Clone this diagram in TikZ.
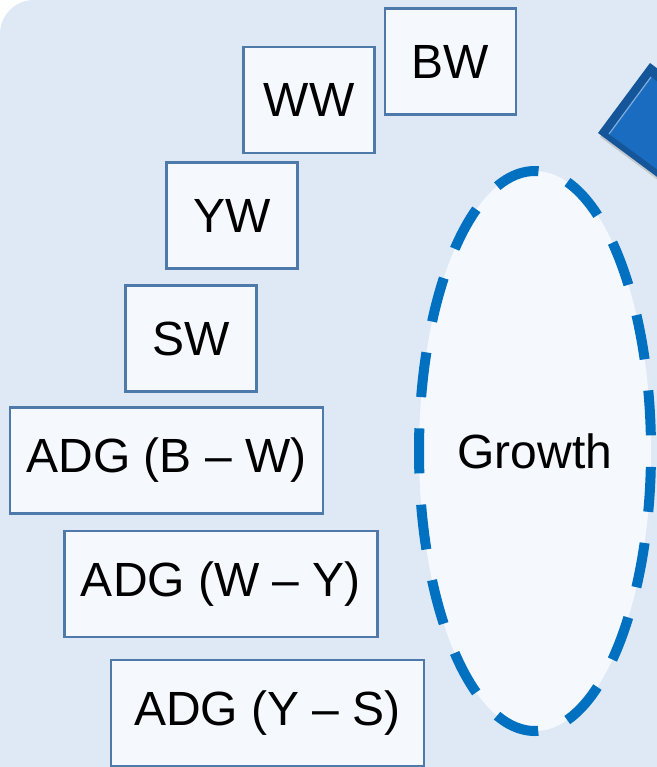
\documentclass[tikz,border=0pt]{standalone}
\usepackage{fontspec}
\setmainfont{Liberation Sans}
\usetikzlibrary{shapes.geometric, calc}
\definecolor{panelblue}{HTML}{DEE9F5}
\definecolor{boxline}{HTML}{4E7AAB}
\definecolor{boxfill}{HTML}{F5F8FD}
\definecolor{dashblue}{HTML}{0070C0}
\definecolor{tipblue}{HTML}{1A6CC0}
\tikzset{
    box/.style={draw=boxline, line width=2.4pt, fill=boxfill, minimum height=106pt, inner sep=0pt},
    smallbox/.style={box, minimum width=131pt},
    widebox/.style={box, minimum width=313pt},
    group/.style={ellipse, draw=dashblue, line width=10pt, fill=boxfill, dash pattern=on 45pt off 31.35pt, dash phase=60.7pt, minimum width=232pt, minimum height=560pt, inner sep=0pt}
}

\begin{document}
\begin{tikzpicture}[x=1pt, y=-1pt, font=\fontsize{48}{56}\selectfont]
        \useasboundingbox (0,0) rectangle (656,767);
        % panel behind everything
        \fill[white] (0,0) rectangle (656,767);
        \fill[panelblue, rounded corners=34pt] (0,0) rectangle (700,900);

        % blue tip coming in from the right
        \fill[black!35, opacity=0.5] (600,137) -- (652,67) -- (757,145) -- (705,215) -- cycle;
        \fill[tipblue!80!black] (598,133) -- (650,63) -- (755,141) -- (703,211) -- cycle;
        \fill[tipblue] (609,134) -- (651,77) -- (741,144) -- (699,200) -- cycle;
        \draw[tipblue!55!white, line width=1.2pt] (609,134) -- (651,77);

        % stages
        \node [smallbox] (bw) at (450.5,61.5) {BW};
        \node [smallbox] (ww) at (309,100) {WW};
        \node [smallbox] (yw) at (232,215.5) {YW};
        \node [smallbox] (sw) at (191,338.5) {SW};
        \node [widebox] (adgbw) at (166.5,460.5) {ADG (B – W)};
        \node [widebox] (adgwy) at (221,584) {ADG (W – Y)};
        \node [widebox] (adgys) at (267.5,713) {ADG (Y – S)};

        \node [group] (growth) at (535,451) {Growth};
    \end{tikzpicture}
\end{document}
